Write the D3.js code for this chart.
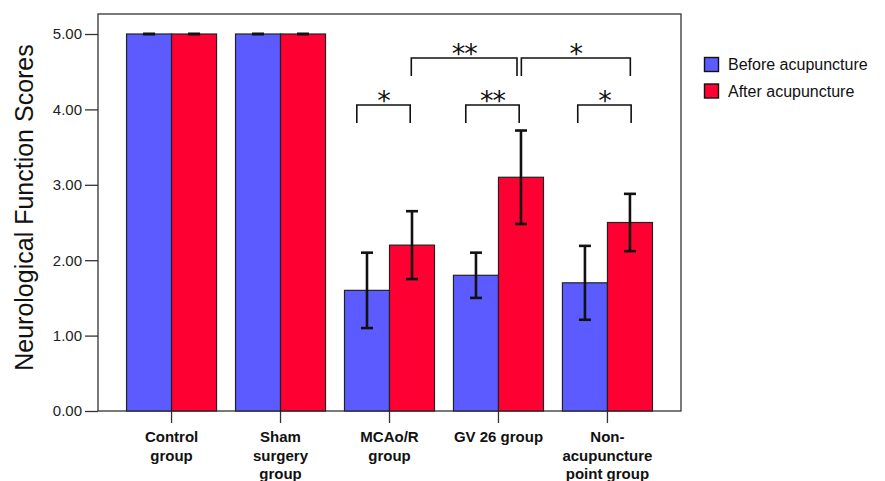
<!DOCTYPE html>
<html>
<head>
<meta charset="utf-8">
<script src="https://cdn.jsdelivr.net/npm/d3@7"></script>
<style>
  html, body { margin: 0; padding: 0; background: #fff; }
  #stage { width: 885px; height: 481px; }
</style>
</head>
<body>
<div id="stage"></div>
<script>
const groups = ["Control group", "Sham surgery group", "MCAo/R group", "GV 26 group", "Non-acupuncture point group"];
const groupLines = [["Control", "group"], ["Sham", "surgery", "group"], ["MCAo/R", "group"], ["GV 26 group"], ["Non-", "acupuncture", "point group"]];
const seriesNames = ["Before acupuncture", "After acupuncture"];
const beforeMean = [5.0, 5.0, 1.6, 1.8, 1.7];
const beforeErr = [0, 0, 0.5, 0.3, 0.49];
const afterMean = [5.0, 5.0, 2.2, 3.1, 2.5];
const afterErr = [0, 0, 0.45, 0.62, 0.38];
const yTicks = [0, 1, 2, 3, 4, 5];
// significance comparisons: [from group, to group, label, level]
const comparisons = [
  ["MCAo/R group", "MCAo/R group", "*", 0],
  ["GV 26 group", "GV 26 group", "**", 0],
  ["Non-acupuncture point group", "Non-acupuncture point group", "*", 0],
  ["MCAo/R group", "GV 26 group", "**", 1],
  ["GV 26 group", "Non-acupuncture point group", "*", 1]
];

const colors = ["#5b5bff", "#ff0033"];

const width = 885, height = 481;
const svg = d3.select("#stage").append("svg")
  .attr("width", width).attr("height", height)
  .attr("viewBox", `0 0 ${width} ${height}`);

const plot = { left: 98, right: 681, top: 14, bottom: 411 };

const x0 = d3.scaleBand().domain(groups)
  .range([plot.left, plot.right])
  .paddingInner(0.174).paddingOuter(0.262);
const x1 = d3.scaleBand().domain([0, 1]).range([0, x0.bandwidth()]);
const y = d3.scaleLinear().domain([0, 5]).range([plot.bottom, 34]);

// frame
svg.append("rect")
  .attr("x", plot.left).attr("y", plot.top)
  .attr("width", plot.right - plot.left).attr("height", plot.bottom - plot.top)
  .attr("fill", "none").attr("stroke", "#333").attr("stroke-width", 1.3);

// y axis
const yAxis = svg.append("g")
  .attr("transform", `translate(${plot.left},0)`)
  .call(d3.axisLeft(y).tickValues(yTicks).tickFormat(d3.format(".2f")).tickSize(13).tickPadding(3));
yAxis.select(".domain").remove();
yAxis.selectAll("line").attr("stroke", "#333").attr("stroke-width", 1.3);
yAxis.selectAll("text").attr("font-family", "Arial, Liberation Sans, sans-serif")
  .attr("font-size", "15px").attr("fill", "#222");

svg.append("text")
  .attr("transform", `translate(33,${(plot.top + plot.bottom) / 2 - 5}) rotate(-90)`)
  .attr("text-anchor", "middle")
  .attr("font-family", "Arial, Liberation Sans, sans-serif")
  .attr("font-size", "25px").attr("fill", "#111")
  .text("Neurological Function Scores");

// x axis ticks and labels
const xAxis = svg.append("g")
  .attr("transform", `translate(0,${plot.bottom})`)
  .call(d3.axisBottom(x0).tickSize(12).tickFormat(""));
xAxis.select(".domain").remove();
xAxis.selectAll("line").attr("stroke", "#333").attr("stroke-width", 1.3);

groups.forEach((g, i) => {
  const t = svg.append("text")
    .attr("x", x0(g) + x0.bandwidth() / 2)
    .attr("y", 442)
    .attr("text-anchor", "middle")
    .attr("font-family", "Arial, Liberation Sans, sans-serif")
    .attr("font-weight", "bold")
    .attr("font-size", "15px").attr("fill", "#111");
  groupLines[i].forEach((line, j) => {
    t.append("tspan").attr("x", x0(g) + x0.bandwidth() / 2)
      .attr("dy", j === 0 ? 0 : 18.5).text(line);
  });
});

// bars
const data = [];
groups.forEach((g, i) => {
  data.push({ g, s: 0, v: beforeMean[i], e: beforeErr[i] });
  data.push({ g, s: 1, v: afterMean[i], e: afterErr[i] });
});

svg.append("g").selectAll("rect").data(data).join("rect")
  .attr("x", d => x0(d.g) + x1(d.s))
  .attr("y", d => y(d.v))
  .attr("width", x1.bandwidth())
  .attr("height", d => y(0) - y(d.v))
  .attr("fill", d => colors[d.s])
  .attr("stroke", "#222").attr("stroke-width", 1.2);

// error bars
const capW = 12;
const eb = svg.append("g").attr("stroke", "#111").attr("stroke-width", 2.6);
data.forEach(d => {
  const cx = x0(d.g) + x1(d.s) + x1.bandwidth() / 2;
  eb.append("line").attr("x1", cx).attr("x2", cx).attr("y1", y(d.v + d.e)).attr("y2", y(d.v - d.e));
  eb.append("line").attr("x1", cx - capW / 2).attr("x2", cx + capW / 2).attr("y1", y(d.v + d.e)).attr("y2", y(d.v + d.e));
  eb.append("line").attr("x1", cx - capW / 2).attr("x2", cx + capW / 2).attr("y1", y(d.v - d.e)).attr("y2", y(d.v - d.e));
});

// significance brackets
const step = x0.step();
const levelY = [105, 58];
const br = svg.append("g");
comparisons.forEach(([a, b, label, level]) => {
  const ca = x0(a) + x0.bandwidth() / 2;
  const cb = x0(b) + x0.bandwidth() / 2;
  let xa, xb;
  if (level === 0) { xa = ca - 0.3 * step + (a === groups[4] ? 3 : 0); xb = cb + 0.19 * step + (a === groups[4] ? 3 : 0); }
  else if (a === groups[2]) { xa = ca + 0.2 * step; xb = cb + 0.17 * step; }
  else { xa = ca + 0.21 * step; xb = cb + 0.21 * step; }
  const yt = levelY[level];
  br.append("path")
    .attr("d", `M${xa},${yt + 18}V${yt}H${xb}V${yt + 18}`)
    .attr("fill", "none").attr("stroke", "#111").attr("stroke-width", 1.6);
  br.append("text")
    .attr("x", (xa + xb) / 2).attr("y", yt + 5)
    .attr("text-anchor", "middle")
    .attr("font-family", "DejaVu Sans, sans-serif")
    .attr("font-size", "27px").attr("fill", "#111")
    .attr("letter-spacing", "-1px")
    .text(label);
});

// legend
const legend = svg.append("g").attr("transform", "translate(704,57)");
seriesNames.forEach((s, i) => {
  const row = legend.append("g").attr("transform", `translate(0,${i * 26.5})`);
  row.append("rect").attr("x", 0.5).attr("y", 0.5).attr("width", 14).attr("height", 14)
    .attr("fill", colors[i]).attr("stroke", "#111").attr("stroke-width", 1.4);
  row.append("text").attr("x", 24).attr("y", 13)
    .attr("font-family", "Arial, Liberation Sans, sans-serif")
    .attr("font-size", "16px").attr("fill", "#111").text(s);
});
</script>
</body>
</html>
